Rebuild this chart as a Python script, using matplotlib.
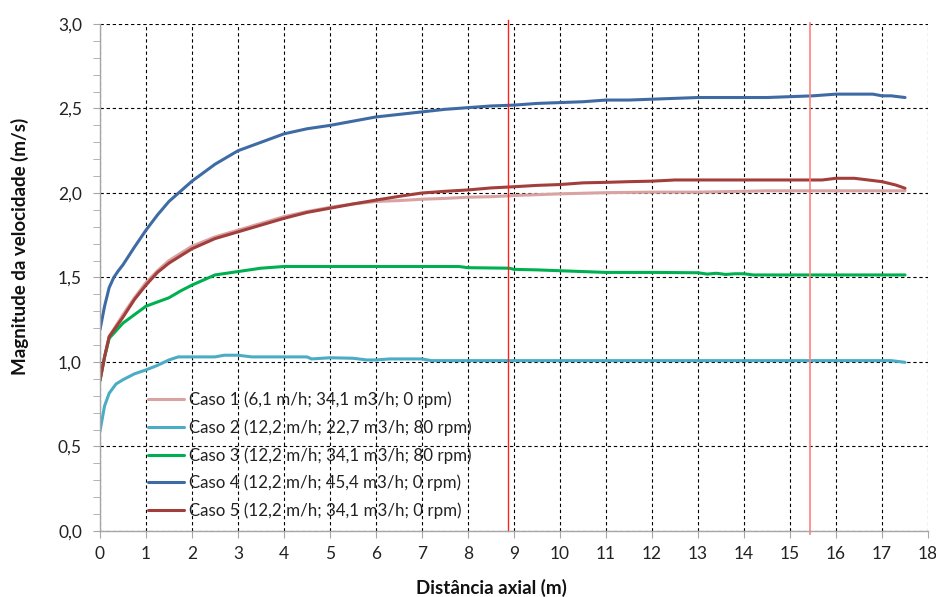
import matplotlib
matplotlib.use("Agg")
import matplotlib.pyplot as plt
from matplotlib.ticker import MultipleLocator, FuncFormatter

plt.rcParams['font.family'] = ['Lato', 'DejaVu Sans']

# ---- data ----
c1_x = [0, 0.1, 0.2, 0.5, 0.75, 1.0, 1.25, 1.5, 2.0, 2.5, 3.0, 3.5, 4.0, 4.5, 5.0, 5.5, 6.0, 6.5, 7.0, 7.5,
        8.0, 8.5, 9.0, 9.5, 10.0, 11.0, 12.0, 13.0, 14.0, 14.5, 15.0, 16.0, 17.0, 17.5]
c1_y = [0.89, 1.03, 1.15, 1.28, 1.38, 1.47, 1.54, 1.60, 1.685, 1.74, 1.78, 1.82, 1.86, 1.89, 1.915, 1.935,
        1.95, 1.955, 1.963, 1.968, 1.975, 1.978, 1.985, 1.99, 1.995, 2.002, 2.005, 2.005, 2.01, 2.013, 2.013,
        2.013, 2.013, 2.013]

c2_x = [0, 0.1, 0.2, 0.35, 0.5, 0.75, 1.0, 1.25, 1.5, 1.7, 2.0, 2.5, 2.7, 3.0, 3.3, 4.0, 4.5, 4.6, 5.0, 5.5,
        5.8, 6.0, 6.3, 7.0, 7.2, 8.0, 10.0, 12.0, 14.0, 16.0, 17.2, 17.5]
c2_y = [0.59, 0.74, 0.815, 0.87, 0.895, 0.93, 0.953, 0.98, 1.012, 1.03, 1.03, 1.03, 1.04, 1.04, 1.03, 1.03,
        1.03, 1.018, 1.025, 1.022, 1.012, 1.012, 1.018, 1.018, 1.008, 1.008, 1.008, 1.008, 1.008, 1.008,
        1.008, 0.998]

c3_x = [0, 0.1, 0.2, 0.5, 0.75, 1.0, 1.25, 1.5, 1.75, 2.0, 2.5, 3.0, 3.5, 4.0, 5.0, 6.0, 7.0, 7.8, 8.0, 8.9,
        9.0, 9.5, 10.0, 10.5, 11.0, 12.0, 13.0, 13.2, 13.4, 13.6, 13.8, 14.0, 14.2, 15.0, 16.0, 17.0, 17.5]
c3_y = [0.89, 1.03, 1.14, 1.23, 1.28, 1.33, 1.355, 1.38, 1.42, 1.455, 1.515, 1.535, 1.555, 1.565, 1.565,
        1.565, 1.565, 1.565, 1.558, 1.555, 1.548, 1.545, 1.54, 1.535, 1.53, 1.53, 1.528, 1.52, 1.525, 1.518,
        1.522, 1.522, 1.515, 1.515, 1.515, 1.515, 1.515]

c4_x = [0, 0.05, 0.1, 0.2, 0.3, 0.4, 0.5, 0.75, 1.0, 1.25, 1.5, 1.75, 2.0, 2.5, 3.0, 3.5, 4.0, 4.5, 5.0, 5.5,
        6.0, 6.5, 7.0, 7.5, 8.0, 8.5, 9.0, 9.5, 10.0, 10.5, 11.0, 11.5, 12.0, 12.5, 13.0, 13.5, 14.0, 14.5,
        15.0, 15.5, 16.0, 16.5, 16.8, 17.0, 17.2, 17.5]
c4_y = [1.19, 1.26, 1.33, 1.44, 1.50, 1.54, 1.575, 1.68, 1.78, 1.87, 1.95, 2.01, 2.07, 2.17, 2.25, 2.30,
        2.35, 2.38, 2.40, 2.425, 2.45, 2.465, 2.48, 2.495, 2.505, 2.515, 2.52, 2.53, 2.535, 2.54, 2.55, 2.55,
        2.555, 2.56, 2.565, 2.565, 2.565, 2.565, 2.57, 2.575, 2.585, 2.585, 2.585, 2.575, 2.575, 2.565]

c5_x = [0, 0.1, 0.2, 0.5, 0.75, 1.0, 1.25, 1.5, 2.0, 2.5, 3.0, 3.5, 4.0, 4.5, 5.0, 5.5, 6.0, 6.5, 7.0, 7.5,
        8.0, 8.5, 9.0, 9.5, 10.0, 10.5, 11.0, 11.5, 12.0, 12.5, 13.0, 14.0, 15.0, 15.7, 16.0, 16.4, 16.7,
        17.0, 17.3, 17.5]
c5_y = [0.89, 1.03, 1.15, 1.265, 1.37, 1.455, 1.53, 1.585, 1.67, 1.73, 1.77, 1.81, 1.85, 1.885, 1.91, 1.935,
        1.958, 1.98, 2.0, 2.01, 2.018, 2.03, 2.037, 2.045, 2.05, 2.06, 2.063, 2.067, 2.07, 2.077, 2.077,
        2.077, 2.077, 2.077, 2.087, 2.087, 2.077, 2.067, 2.047, 2.028]

labels = ["Caso 1 (6,1 m/h; 34,1 m3/h; 0 rpm)",
          "Caso 2 (12,2 m/h; 22,7 m3/h; 80 rpm)",
          "Caso 3 (12,2 m/h; 34,1 m3/h; 80 rpm)",
          "Caso 4 (12,2 m/h; 45,4 m3/h; 0 rpm)",
          "Caso 5 (12,2 m/h; 34,1 m3/h; 0 rpm)"]
colors = ["#D9A3A3", "#4BACC6", "#00B050", "#3F6BA5", "#A23F3C"]
marker_lines = [8.87, 15.43]

# ---- figure ----
fig = plt.figure(figsize=(9.36, 5.97), dpi=100)
ax = fig.add_axes([0.1068, 0.1106, 0.8847, 0.8492])

series = [(c1_x, c1_y), (c2_x, c2_y), (c3_x, c3_y), (c4_x, c4_y), (c5_x, c5_y)]
handles = []
for (xs, ys), lab, col in zip(series, labels, colors):
    h, = ax.plot(xs, ys, color=col, lw=2.2, label=lab, solid_capstyle='round')
    handles.append(h)

ax.axvline(marker_lines[0], ymin=0, ymax=1.008, color="#FF2020", lw=1.0, clip_on=False)
ax.axvline(marker_lines[1], ymin=-0.006, ymax=1.002, color="#FF8080", lw=1.2, clip_on=False)

ax.set_xlim(0, 18)
ax.set_ylim(0, 3.0)
ax.xaxis.set_major_locator(MultipleLocator(1))
ax.yaxis.set_major_locator(MultipleLocator(0.5))
ax.yaxis.set_minor_locator(MultipleLocator(0.1))
ax.yaxis.set_major_formatter(FuncFormatter(lambda v, p: f"{v:.1f}".replace('.', ',')))

ax.grid(True, which='major', color='black', linestyle=(0, (3, 2.5)), lw=0.8)
ax.set_axisbelow(True)
for s in ['top', 'right']:
    ax.spines[s].set_visible(False)
for s in ['left', 'bottom']:
    ax.spines[s].set_color('#A6A6A6')
    ax.spines[s].set_linewidth(1.0)
ax.tick_params(axis='both', which='both', color='#A6A6A6', direction='out', labelsize=12.5,
               labelcolor='#222222')
ax.tick_params(axis='both', which='major', length=5)
ax.tick_params(axis='y', which='minor', length=5)
ax.tick_params(axis='x', pad=6)
ax.tick_params(axis='y', pad=8)

fig.text(491 / 936, 1 - 588 / 597, "Distância axial (m)", fontsize=13.5, fontweight='bold',
         ha='center', va='center', color='#111111')
fig.text(20 / 936, 1 - 246 / 597, "Magnitude da velocidade (m/s)", fontsize=13.5, fontweight='bold',
         ha='center', va='center', rotation=90, color='#111111')

ax.legend(handles=handles, loc='upper left', bbox_to_anchor=(0.058, 0.275), frameon=False,
          fontsize=12.2, handlelength=2.15, handletextpad=0.25, labelspacing=0.66, borderpad=0,
          borderaxespad=0, labelcolor='#222222')

fig.savefig("out.png", dpi=100)
